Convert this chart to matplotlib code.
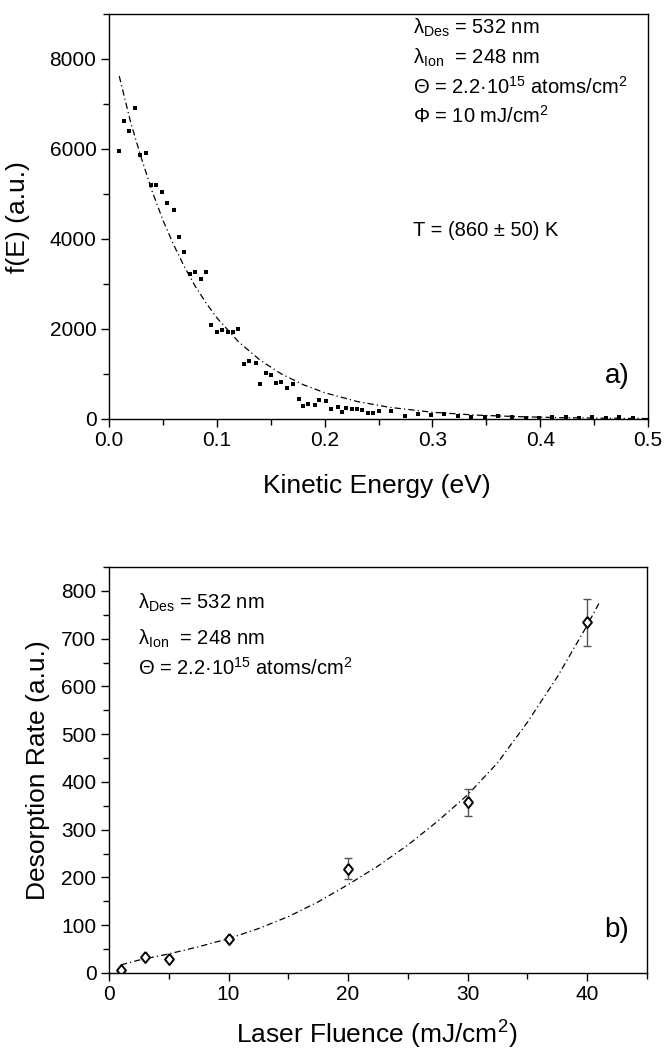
import numpy as np
import matplotlib
matplotlib.use("Agg")
import matplotlib.pyplot as plt
from matplotlib.ticker import MultipleLocator

plt.rcParams['font.family'] = ['Liberation Sans', 'DejaVu Sans']
plt.rcParams['mathtext.fontset'] = 'custom'
plt.rcParams['mathtext.rm'] = 'Liberation Sans'
plt.rcParams['mathtext.it'] = 'Liberation Sans:italic'

# ---- panel a) : kinetic energy distribution
ke_energy = [0.009, 0.014, 0.019, 0.024, 0.029, 0.034, 0.039, 0.044, 0.049, 0.054,
             0.060, 0.065, 0.070, 0.075, 0.080, 0.085, 0.090, 0.095, 0.100, 0.105,
             0.110, 0.115, 0.120, 0.125, 0.130, 0.136, 0.140, 0.146, 0.150, 0.155,
             0.160, 0.165, 0.171, 0.176, 0.180, 0.185, 0.191, 0.195, 0.201, 0.206,
             0.212, 0.216, 0.220, 0.225, 0.230, 0.235, 0.240, 0.245, 0.250, 0.262,
             0.275, 0.287, 0.299, 0.311, 0.324, 0.336, 0.349, 0.361, 0.374, 0.387,
             0.399, 0.411, 0.424, 0.436, 0.448, 0.461, 0.473, 0.486]
ke_signal = [5950, 6620, 6400, 6910, 5870, 5910, 5190, 5190, 5050, 4800,
             4640, 4050, 3700, 3220, 3270, 3120, 3260, 2080, 1930, 1980,
             1930, 1930, 2000, 1220, 1300, 1240, 780, 1020, 980, 800,
             820, 700, 780, 450, 290, 340, 320, 420, 400, 220,
             270, 160, 240, 220, 215, 210, 140, 140, 170, 170,
             60, 110, 90, 120, 60, 55, 55, 70, 40, 30,
             25, 35, 45, 28, 40, 30, 45, 30]

# Boltzmann fit (dash-dot)
ke_fit_x = [0.0095, 0.02, 0.03, 0.04, 0.05, 0.06, 0.07, 0.08, 0.09, 0.10, 0.12,
            0.14, 0.16, 0.18, 0.20, 0.23, 0.26, 0.30, 0.34, 0.38, 0.42, 0.46, 0.50]
ke_fit_y = [7620, 6600, 5800, 5060, 4420, 3870, 3380, 2950, 2580, 2250, 1720,
            1310, 1000, 765, 585, 390, 260, 150, 87, 52, 30, 18, 10]

# ---- panel b) : desorption rate vs fluence
fluence = [1, 3, 5, 10, 20, 30, 40]
rate = [7, 33, 30, 71, 218, 357, 734]
rate_err = [0, 0, 0, 0, 22, 29, 49]

fl_fit_x = [1, 2.5, 5, 7.5, 10, 12.5, 15, 17.5, 20, 22.5, 25, 27.5, 30, 32.5, 35, 37.5, 40, 41]
fl_fit_y = [17, 27, 40, 55, 72, 93, 118, 149, 185, 224, 268, 318, 373, 440, 525, 620, 728, 775]

txt_a = [r"λ$_{\mathrm{Des}}$ = 532 nm",
         r"λ$_{\mathrm{Ion}}$  = 248 nm",
         r"Θ = 2.2·10$^{15}$ atoms/cm$^{2}$",
         r"Φ = 10 mJ/cm$^{2}$"]
txt_a_y = [8700, 8015, 7370, 6740]
txt_b = txt_a[:3]
txt_b_y = [774, 700, 639]

fit_ls = (0, (5, 2.5, 1, 2.5))
diamond = [(0, 1), (0.8, 0), (0, -1), (-0.8, 0), (0, 1)]

W, H = 664, 1051


def style_axis(ax):
    for sp in ax.spines.values():
        sp.set_linewidth(1.0)
    ax.tick_params(which='both', direction='out', top=False, right=False, labelsize=15, pad=3)
    ax.tick_params(which='major', length=6, width=1.0)
    ax.tick_params(which='minor', length=4, width=1.0)


fig = plt.figure(figsize=(W / 100, H / 100), dpi=100)

# top panel
ax1 = fig.add_axes([109 / W, 1 - 419 / H, 539 / W, 405 / H])
ax1.plot(ke_fit_x, ke_fit_y, color='black', lw=0.9, ls=fit_ls)
ax1.plot(ke_energy, ke_signal, 's', color='black', ms=3.3, mew=0)
ax1.set_xlim(0, 0.5)
ax1.set_ylim(0, 9000)
ax1.xaxis.set_major_locator(MultipleLocator(0.1))
ax1.xaxis.set_minor_locator(MultipleLocator(0.05))
ax1.yaxis.set_major_locator(MultipleLocator(2000))
ax1.yaxis.set_minor_locator(MultipleLocator(1000))
ax1.xaxis.set_major_formatter(plt.FormatStrFormatter('%.1f'))
style_axis(ax1)

for t, y in zip(txt_a, txt_a_y):
    ax1.text(0.282, y, t, fontsize=14.5, va='center')
ax1.text(0.282, 4200, "T = (860 ± 50) K", fontsize=14.5, va='center')
ax1.text(0.483, 950, "a)", fontsize=20, ha='right', va='center')

# bottom panel
ax2 = fig.add_axes([109 / W, 1 - 973 / H, 538 / W, 406 / H])
ax2.plot(fl_fit_x, fl_fit_y, color='black', lw=0.9, ls=fit_ls)
ax2.errorbar(fluence, rate, yerr=rate_err, fmt='none', ecolor='#555555',
             elinewidth=1.0, capsize=3, capthick=1.0)
ax2.plot(fluence, rate, ls='none', marker=diamond, ms=8, mfc='white', mec='black', mew=1.4)
ax2.set_xlim(0, 45)
ax2.set_ylim(0, 850)
ax2.xaxis.set_major_locator(MultipleLocator(10))
ax2.xaxis.set_minor_locator(MultipleLocator(5))
ax2.yaxis.set_major_locator(MultipleLocator(100))
ax2.yaxis.set_minor_locator(MultipleLocator(50))
style_axis(ax2)

for t, y in zip(txt_b, txt_b_y):
    ax2.text(2.4, y, t, fontsize=14.5, va='center')
ax2.text(43.5, 90, "b)", fontsize=20, ha='right', va='center')

# axis titles placed at measured pixel centres
fig.text(377 / W, 1 - 486 / H, "Kinetic Energy (eV)", fontsize=19, ha='center', va='center')
fig.text(377 / W, 1 - 1035 / H, r"Laser Fluence (mJ/cm$^{2}$)", fontsize=19, ha='center', va='center')
fig.text(18 / W, 1 - 217 / H, "f(E) (a.u.)", fontsize=19, rotation=90, ha='center', va='center')
fig.text(38 / W, 1 - 770 / H, "Desorption Rate (a.u.)", fontsize=19, rotation=90, ha='center', va='center')

plt.savefig("out.png", dpi=100)
